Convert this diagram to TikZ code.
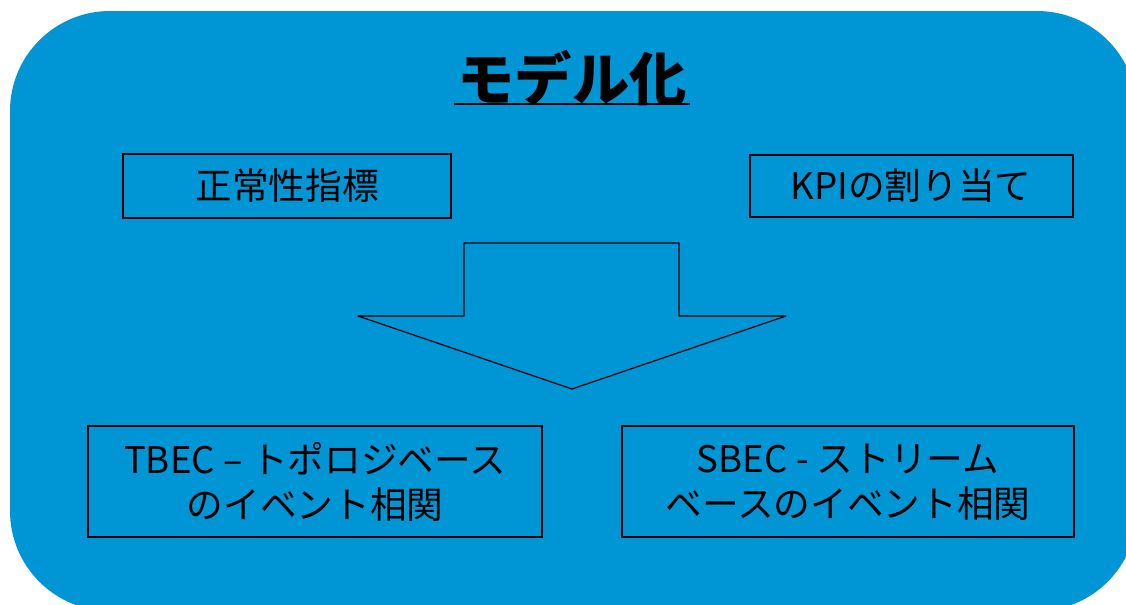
\documentclass[tikz,border=0pt]{standalone}
\usepackage{fontspec}
\setmainfont{Noto Sans CJK JP}
\newfontfamily\jpbold{Noto Sans CJK JP}[BoldFont={* Bold}]
\definecolor{bgblue}{RGB}{0,150,214}
\begin{document}
\begin{tikzpicture}[x=0.75pt,y=-0.75pt,
  box/.style={draw=black,line width=0.9pt,inner sep=0pt},
  lbl/.style={font=\fontsize{27.5pt}{34pt}\selectfont,align=center,text=black}]
\useasboundingbox (0,0) rectangle (1126,604);
\clip (0,0) rectangle (1126,604);
\fill[bgblue,rounded corners=75pt] (10,11) rectangle (1137,611);
% title
\node[font=\fontsize{43pt}{50pt}\selectfont\bfseries,text=black] (title) at (572,78) {モデル化};
\draw[line width=2.2pt] (454,104) -- (690,104);
% boxes
\draw[box] (123,154) rectangle (451,218);
\node[lbl] (norm) at (287,186) {正常性指標};
\draw[box] (750,155) rectangle (1073,217);
\node[lbl] (kpi) at (911,186) {KPIの割り当て};
\draw[box] (88,426) rectangle (542,537);
\node[lbl] (tbec) at (315,482) {TBEC – トポロジベース\\のイベント相関};
\draw[box] (622,426) rectangle (1074,537);
\node[lbl] (sbec) at (848,482) {SBEC - ストリーム\\ベースのイベント相関};
% arrow
\draw[line width=0.9pt,line join=round] (464,243) -- (679,243) -- (679,316) -- (786,316) -- (572,389) -- (358,316) -- (464,316) -- cycle;
\end{tikzpicture}
\end{document}
